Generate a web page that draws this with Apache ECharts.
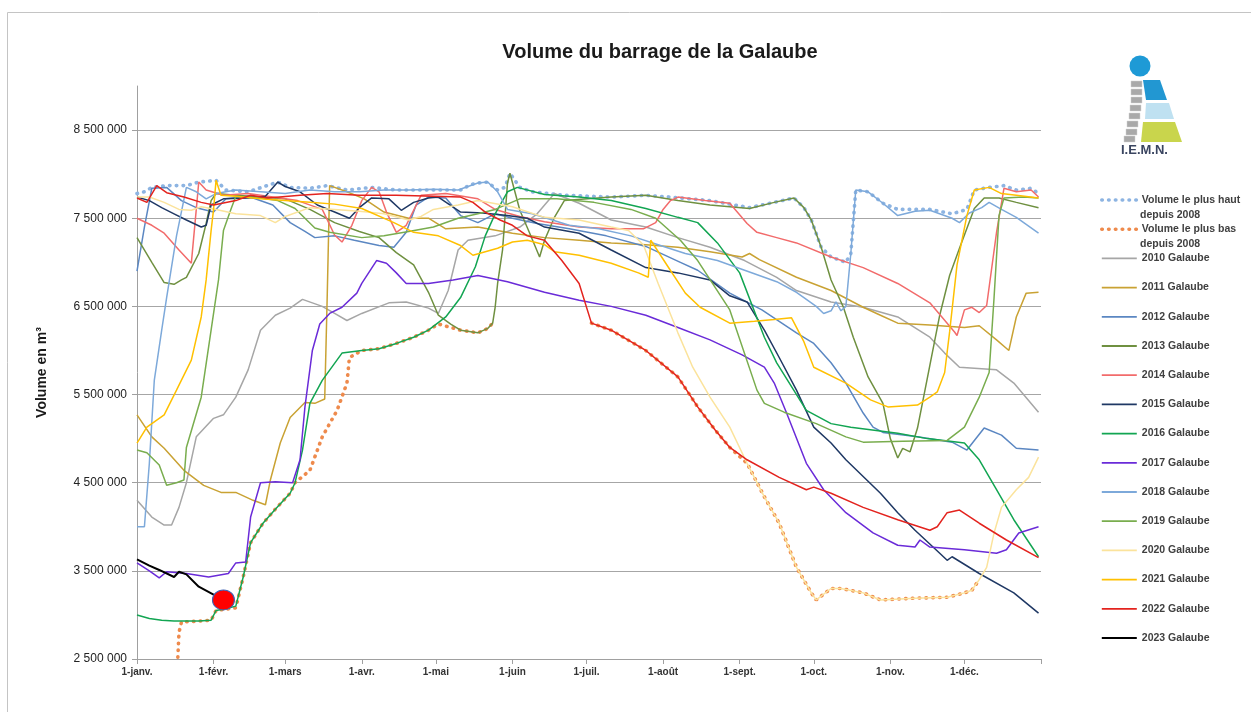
<!DOCTYPE html>
<html>
<head>
<meta charset="utf-8">
<script src="https://cdn.jsdelivr.net/npm/echarts@6.0.0/dist/echarts.min.js"></script>
<style>
  html, body { margin: 0; padding: 0; background: #fff; }
  #chart { width: 1251px; height: 712px; }
</style>
</head>
<body>
<div id="chart"></div>
<script>
// jours depuis le 1er janvier (année de 366 jours), volume en millions de m3
const monthDays = [0, 31, 60, 91, 121, 152, 182, 213, 244, 274, 305, 335];
const monthLabels = ['1-janv.', '1-févr.', '1-mars', '1-avr.', '1-mai', '1-juin', '1-juil.', '1-août', '1-sept.', '1-oct.', '1-nov.', '1-déc.'];
const yTicks = [2.5, 3.5, 4.5, 5.5, 6.5, 7.5, 8.5];

const volMax = [[0,7.78],[3,7.8],[6,7.85],[12,7.87],[20,7.87],[25,7.91],[32,7.93],[36,7.82],[45,7.8],[57,7.91],[62,7.85],[70,7.84],[77,7.87],[85,7.82],[95,7.85],[105,7.82],[115,7.82],[125,7.82],[131,7.82],[135,7.88],[138,7.9],[142,7.91],[146,7.82],[149,7.85],[151,8.01],[155,7.85],[160,7.8],[173,7.76],[192,7.74],[206,7.76],[216,7.74],[232,7.7],[248,7.62],[258,7.68],[266,7.73],[270,7.62],[273,7.48],[277,7.17],[281,7.06],[287,7.0],[289,7.1],[291,7.82],[296,7.8],[302,7.67],[308,7.6],[321,7.6],[330,7.55],[336,7.6],[339,7.82],[345,7.85],[351,7.87],[356,7.82],[362,7.84],[365,7.78]];
const volMin = [[14,2.3],[16.5,2.5],[17,2.8],[18,2.92],[25,2.93],[30,2.94],[32,3.05],[40,3.08],[43,3.43],[46,3.82],[51,4.04],[56,4.2],[62,4.38],[64,4.5],[70,4.64],[75,5.02],[81,5.32],[85,5.63],[86,5.92],[91,6.0],[98,6.02],[105,6.08],[112,6.15],[118,6.23],[122,6.3],[131,6.23],[138,6.2],[142,6.25],[144,6.31],[145,null],[184,6.31],[192,6.23],[206,6.0],[219,5.7],[227,5.36],[234,5.1],[240,4.9],[247,4.72],[254,4.34],[260,4.04],[267,3.54],[273,3.25],[275,3.17],[281,3.3],[285,3.3],[294,3.25],[301,3.17],[315,3.19],[328,3.2],[335,3.25],[338,3.28],[341,3.4]];
const y2010 = [[0,4.3],[6,4.11],[11,4.02],[14,4.02],[17,4.22],[20,4.5],[24,5.02],[31,5.23],[35,5.27],[40,5.47],[45,5.78],[50,6.23],[56,6.4],[62,6.48],[67,6.58],[75,6.5],[80,6.42],[85,6.34],[91,6.42],[102,6.54],[109,6.55],[118,6.48],[122,6.42],[126,6.68],[130,7.14],[134,7.25],[145,7.3],[155,7.4],[162,7.55],[169,7.78],[179,7.67],[192,7.48],[206,7.4],[219,7.28],[232,7.17],[246,7.02],[259,6.83],[267,6.68],[281,6.55],[294,6.49],[308,6.38],[321,6.15],[327,5.97],[333,5.81],[348,5.78],[355,5.63],[365,5.3]];
const y2011 = [[0,5.27],[6,5.02],[11,4.89],[19,4.64],[27,4.47],[34,4.39],[40,4.39],[47,4.3],[52,4.25],[54,4.53],[58,4.95],[62,5.24],[68,5.41],[72,5.4],[76,5.45],[77,6.6],[78,7.87],[85,7.8],[92,7.72],[100,7.57],[110,7.5],[118,7.5],[125,7.38],[138,7.4],[152,7.33],[165,7.28],[179,7.25],[192,7.22],[206,7.2],[219,7.17],[232,7.12],[245,7.06],[248,7.1],[252,7.03],[267,6.83],[281,6.68],[294,6.49],[301,6.4],[308,6.31],[321,6.29],[335,6.26],[341,6.28],[348,6.12],[353,6.0],[356,6.38],[360,6.65],[365,6.66]];
const y2012 = [[0,6.9],[3,7.4],[6,7.84],[12,7.85],[18,7.7],[24,7.62],[31,7.57],[36,7.72],[45,7.75],[55,7.65],[62,7.45],[68,7.35],[72,7.28],[80,7.3],[88,7.25],[98,7.19],[104,7.17],[109,7.34],[113,7.65],[118,7.74],[125,7.73],[131,7.53],[138,7.45],[145,7.55],[152,7.5],[162,7.44],[175,7.38],[190,7.3],[206,7.18],[220,7.0],[227,6.91],[240,6.65],[253,6.46],[267,6.2],[274,6.08],[281,5.86],[287,5.63],[294,5.29],[298,5.13],[302,5.07],[316,5.02],[330,4.96],[336,4.87],[343,5.12],[350,5.04],[356,4.89],[365,4.87]];
const y2013 = [[0,7.28],[6,7.0],[11,6.77],[15,6.75],[18,6.8],[20,6.83],[25,7.1],[28,7.44],[30,7.7],[32,7.78],[40,7.76],[50,7.74],[60,7.72],[70,7.6],[80,7.45],[90,7.35],[98,7.28],[105,7.11],[112,6.97],[118,6.66],[122,6.4],[127,6.3],[131,6.23],[138,6.2],[142,6.25],[144,6.31],[145,6.49],[146,6.76],[148,7.14],[150,7.9],[151,8.01],[155,7.59],[159,7.33],[163,7.06],[165,7.25],[169,7.51],[173,7.7],[192,7.74],[206,7.76],[219,7.7],[232,7.65],[248,7.61],[258,7.68],[266,7.73],[270,7.62],[273,7.48],[277,7.17],[281,6.8],[286,6.49],[290,6.15],[296,5.7],[302,5.4],[305,5.0],[308,4.78],[310,4.89],[313,4.85],[316,5.12],[321,5.83],[325,6.4],[329,6.85],[333,7.16],[339,7.61],[343,7.73],[349,7.73],[356,7.68],[365,7.62]];
const y2014 = [[0,7.5],[6,7.42],[11,7.33],[17,7.14],[22,6.99],[24,7.6],[25,7.91],[28,7.82],[35,7.76],[45,7.78],[55,7.74],[65,7.7],[75,7.6],[80,7.31],[83,7.23],[87,7.42],[91,7.7],[95,7.85],[98,7.8],[101,7.57],[105,7.34],[109,7.42],[115,7.76],[125,7.78],[138,7.72],[145,7.6],[155,7.52],[165,7.46],[179,7.4],[192,7.38],[205,7.38],[210,7.45],[213,7.6],[216,7.7],[219,7.74],[230,7.7],[240,7.67],[247,7.44],[251,7.34],[259,7.28],[267,7.22],[281,7.06],[294,6.94],[308,6.76],[321,6.54],[331,6.21],[332,6.17],[335,6.46],[338,6.49],[341,6.43],[344,6.51],[348,7.34],[351,7.84],[356,7.8],[362,7.82],[365,7.74]];
const y2015 = [[0,7.74],[5,7.7],[10,7.62],[15,7.55],[20,7.48],[26,7.4],[28,7.42],[30,7.65],[35,7.72],[45,7.73],[52,7.75],[57,7.91],[60,7.86],[66,7.8],[73,7.65],[80,7.57],[86,7.5],[90,7.62],[95,7.73],[102,7.72],[107,7.59],[112,7.68],[118,7.73],[122,7.74],[131,7.57],[140,7.56],[150,7.53],[158,7.5],[165,7.4],[179,7.33],[192,7.14],[206,6.94],[219,6.88],[232,6.8],[240,6.62],[247,6.55],[254,6.23],[260,5.92],[267,5.55],[274,5.13],[281,4.95],[287,4.76],[301,4.38],[308,4.16],[315,3.96],[325,3.7],[328,3.62],[330,3.66],[341,3.47],[355,3.25],[365,3.02]];
const y2016 = [[0,3.0],[5,2.96],[10,2.94],[15,2.93],[25,2.93],[30,2.94],[32,3.05],[36,3.07],[40,3.1],[43,3.43],[46,3.82],[51,4.04],[56,4.2],[62,4.38],[64,4.5],[67,4.87],[70,5.4],[75,5.66],[83,5.97],[91,6.0],[98,6.02],[105,6.08],[112,6.15],[118,6.23],[125,6.38],[131,6.6],[137,6.95],[141,7.3],[145,7.55],[150,7.8],[154,7.85],[165,7.77],[179,7.74],[192,7.7],[206,7.61],[219,7.51],[227,7.45],[235,7.22],[244,6.88],[254,6.15],[259,5.86],[271,5.32],[281,5.17],[289,5.13],[308,5.06],[320,5.0],[335,4.95],[341,4.76],[348,4.42],[355,4.08],[365,3.66]];
const y2017 = [[0,3.59],[5,3.5],[9,3.42],[12,3.49],[20,3.47],[29,3.43],[37,3.47],[40,3.59],[44,3.6],[46,4.11],[50,4.5],[56,4.51],[63,4.5],[66,4.76],[68,5.36],[71,6.0],[74,6.3],[78,6.42],[83,6.49],[89,6.65],[91,6.76],[97,7.02],[101,6.99],[105,6.88],[109,6.76],[118,6.76],[128,6.8],[138,6.85],[150,6.78],[165,6.66],[179,6.57],[192,6.5],[206,6.4],[219,6.26],[232,6.12],[245,5.95],[254,5.81],[258,5.63],[263,5.29],[271,4.72],[278,4.42],[287,4.16],[298,3.93],[308,3.79],[315,3.77],[317,3.85],[321,3.77],[335,3.74],[348,3.7],[352,3.74],[357,3.93],[365,4.0]];
const y2018 = [[0,4.0],[3,4.0],[5,4.72],[7,5.66],[10,6.23],[12,6.6],[16,7.3],[20,7.85],[24,7.8],[28,7.72],[32,7.78],[40,7.82],[50,7.8],[60,7.78],[70,7.82],[80,7.8],[90,7.8],[100,7.82],[110,7.82],[120,7.83],[130,7.82],[138,7.9],[142,7.91],[146,7.8],[150,7.6],[160,7.55],[175,7.42],[187,7.38],[200,7.3],[211,7.2],[222,7.1],[235,7.02],[246,6.91],[259,6.78],[267,6.66],[275,6.5],[278,6.42],[281,6.45],[283,6.55],[285,6.45],[287,6.5],[289,7.1],[291,7.82],[296,7.8],[302,7.67],[308,7.53],[315,7.58],[321,7.59],[330,7.5],[333,7.45],[337,7.56],[342,7.62],[345,7.68],[350,7.6],[356,7.51],[365,7.33]];
const y2019 = [[0,4.87],[4,4.84],[9,4.7],[12,4.47],[16,4.5],[19,4.53],[20,4.9],[26,5.47],[30,6.23],[33,6.8],[35,7.36],[38,7.6],[40,7.75],[50,7.73],[57,7.7],[64,7.61],[72,7.39],[78,7.34],[91,7.28],[100,7.3],[110,7.35],[120,7.4],[130,7.5],[138,7.55],[145,7.6],[155,7.72],[170,7.72],[185,7.68],[200,7.6],[210,7.5],[220,7.25],[227,7.02],[240,6.46],[251,5.55],[254,5.4],[262,5.3],[275,5.17],[287,5.02],[294,4.96],[310,4.97],[328,4.98],[335,5.13],[341,5.47],[345,5.75],[347,6.6],[349,7.53],[351,7.73],[359,7.74],[365,7.73]];
const y2020 = [[0,7.74],[5,7.74],[11,7.68],[17,7.6],[22,7.59],[26,7.63],[32,7.6],[40,7.55],[50,7.53],[56,7.45],[60,7.52],[70,7.62],[80,7.6],[90,7.58],[100,7.55],[110,7.48],[115,7.52],[120,7.6],[130,7.65],[138,7.7],[152,7.63],[165,7.51],[179,7.48],[192,7.4],[199,7.36],[205,7.2],[211,6.76],[219,6.2],[225,5.81],[232,5.47],[240,5.13],[247,4.72],[254,4.34],[260,4.04],[267,3.54],[273,3.25],[275,3.17],[281,3.3],[285,3.3],[294,3.25],[301,3.17],[315,3.19],[328,3.2],[335,3.25],[338,3.28],[341,3.4],[344,3.54],[347,3.93],[350,4.22],[356,4.42],[361,4.56],[365,4.79]];
const y2021 = [[0,4.95],[4,5.13],[11,5.27],[16,5.55],[22,5.89],[26,6.38],[28,6.8],[30,7.36],[31,7.6],[32,7.93],[34,7.76],[40,7.75],[50,7.72],[60,7.7],[70,7.68],[80,7.66],[91,7.61],[104,7.45],[112,7.34],[122,7.3],[131,7.19],[136,7.08],[146,7.16],[152,7.23],[158,7.25],[165,7.2],[169,7.12],[179,7.08],[192,6.99],[203,6.88],[207,6.83],[208,7.25],[215,6.95],[222,6.65],[228,6.49],[240,6.31],[250,6.33],[258,6.35],[265,6.37],[270,6.1],[274,5.81],[287,5.63],[297,5.44],[304,5.36],[316,5.38],[321,5.47],[324,5.53],[327,5.75],[329,6.21],[332,6.97],[336,7.53],[339,7.82],[345,7.85],[350,7.78],[356,7.76],[365,7.73]];
const y2022 = [[0,7.73],[4,7.68],[8,7.87],[12,7.79],[19,7.74],[26,7.68],[31,7.65],[40,7.7],[46,7.76],[53,7.73],[66,7.76],[77,7.78],[90,7.76],[105,7.76],[120,7.75],[131,7.74],[136,7.68],[141,7.57],[147,7.48],[152,7.42],[158,7.3],[165,7.25],[172,7.02],[179,6.76],[184,6.31],[192,6.23],[206,6.0],[219,5.7],[227,5.36],[234,5.1],[240,4.9],[247,4.76],[260,4.56],[271,4.42],[274,4.45],[281,4.38],[294,4.22],[308,4.08],[321,3.96],[324,4.0],[328,4.16],[333,4.19],[341,4.04],[352,3.85],[365,3.65]];
const y2023 = [[0,3.63],[5,3.56],[9,3.51],[15,3.43],[17,3.49],[20,3.46],[25,3.32],[31,3.23],[35,3.17]];

const names = ['Volume le plus haut depuis 2008', 'Volume le plus bas depuis 2008',
    '2010 Galaube', '2011 Galaube', '2012 Galaube', '2013 Galaube', '2014 Galaube', '2015 Galaube', '2016 Galaube',
    '2017 Galaube', '2018 Galaube', '2019 Galaube', '2020 Galaube', '2021 Galaube', '2022 Galaube', '2023 Galaube'];
const datasets = [volMax, volMin, y2010, y2011, y2012, y2013, y2014, y2015, y2016, y2017, y2018, y2019, y2020, y2021, y2022, y2023];
const colors = ['#8DB4E2', '#EE8A4C', '#A6A6A6', '#C9A233', '#5B87C2', '#6F9040', '#F26B6B', '#1F3864', '#12A552',
    '#6A2BD8', '#7DA9DA', '#79AD4E', '#FBE39C', '#FFC000', '#E3231E', '#000000'];

function fmtVolume(v) {
    let s = String(Math.round(v * 1000000));
    return s.replace(/\B(?=(\d{3})+(?!\d))/g, ' ');
}

function makeSeries(i) {
    let s = {
        name: names[i],
        type: 'line',
        data: datasets[i],
        symbol: 'none',
        connectNulls: false,
        lineStyle: { color: colors[i], width: 1.5 },
        itemStyle: { color: colors[i] },
        emphasis: { disabled: true },
        animation: false
    };
    // enveloppes max / min en pointillés
    if (i < 2) {
        s.lineStyle = { color: colors[i], width: 3.6, type: [0.5, 6.3], cap: 'round' };
    }
    // 2023 : trait plus épais + pastille rouge au dernier point
    if (i === datasets.length - 1) {
        s.lineStyle = { color: colors[i], width: 2 };
        s.data = datasets[i].map(function (p, k) {
            if (k === datasets[i].length - 1) {
                return { value: p, symbol: 'circle', symbolSize: [22, 20],
                    itemStyle: { color: '#FF0000', borderColor: '#3E63B5', borderWidth: 1 } };
            }
            return p;
        });
        s.z = 5;
    }
    return s;
}

function legendData() {
    return names.map(function (n, i) {
        if (i < 2) {
            return { name: n, lineStyle: { width: 3.6, type: [0.5, 6.3], cap: 'round' } };
        }
        return { name: n, lineStyle: { width: i === names.length - 1 ? 2.2 : 1.8 } };
    });
}

function logo() {
    let g = [];
    g.push({ type: 'circle', shape: { cx: 1140, cy: 66, r: 10.5 }, style: { fill: '#1E9AD6' } });
    g.push({ type: 'polygon', shape: { points: [[1143, 80], [1160, 80], [1167, 100], [1146, 100]] }, style: { fill: '#2297D2' } });
    g.push({ type: 'polygon', shape: { points: [[1146, 103], [1169, 103], [1174, 119], [1145, 119]] }, style: { fill: '#BFE1F1' } });
    g.push({ type: 'polygon', shape: { points: [[1143, 122], [1175, 122], [1182, 142], [1141, 142]] }, style: { fill: '#C9D54C' } });
    let blocks = [[1131, 81], [1131, 89], [1131, 97], [1130, 105], [1129, 113], [1127, 121], [1126, 129], [1124, 136]];
    blocks.forEach(function (b) {
        g.push({ type: 'rect', shape: { x: b[0], y: b[1], width: 11, height: 6 }, style: { fill: '#A9A9A9', stroke: '#D0D0D0', lineWidth: 0.5 } });
    });
    g.push({ type: 'text', x: 1121, y: 144, style: { text: 'I.E.M.N.', fill: '#3A4560', font: 'bold 13px "Liberation Sans"' } });
    return g;
}

function init() {
    let chart = echarts.init(document.getElementById('chart'), null, { renderer: 'canvas' });
    let series = [];
    for (let i = 0; i < datasets.length; i++) series.push(makeSeries(i));

    let graphics = [
        { type: 'rect', shape: { x: 7.5, y: 12.5, width: 1260, height: 720 }, style: { fill: 'none', stroke: '#C4C4C4', lineWidth: 1 }, z: -1 },
        { type: 'text', x: 1140, y: 210, style: { text: 'depuis 2008', fill: '#404040', font: 'bold 10.5px "Liberation Sans"' } },
        { type: 'text', x: 1140, y: 239, style: { text: 'depuis 2008', fill: '#404040', font: 'bold 10.5px "Liberation Sans"' } }
    ].concat(logo());

    let option = {
        backgroundColor: '#ffffff',
        animation: false,
        title: {
            text: 'Volume du barrage de la Galaube',
            left: 655, top: 37, textAlign: 'center',
            textStyle: { fontFamily: 'Liberation Sans', fontSize: 20, fontWeight: 'bold', color: '#1a1a1a' }
        },
        legend: {
            orient: 'vertical',
            left: 1100, top: 193, padding: 0,
            itemWidth: 35, itemHeight: 14, itemGap: 15.2,
            data: legendData(),
            itemStyle: { opacity: 0 },
            formatter: function (n) { return n.replace(' depuis 2008', ''); },
            textStyle: { fontFamily: 'Liberation Sans', fontSize: 10.5, fontWeight: 'bold', color: '#404040', lineHeight: 14 },
            selectedMode: false
        },
        grid: { left: 137, right: 210, top: 86, bottom: 53 },
        xAxis: {
            type: 'value', min: 0, max: 366,
            axisLine: { show: true, onZero: false, lineStyle: { color: '#A0A0A0' } },
            axisTick: { show: true, length: 5, customValues: monthDays.concat([366]), lineStyle: { color: '#A0A0A0' } },
            axisLabel: {
                customValues: monthDays,
                formatter: function (v) { return monthLabels[monthDays.indexOf(v)] || ''; },
                fontFamily: 'Liberation Sans', fontSize: 10, fontWeight: 'bold', color: '#333', margin: 8
            },
            splitLine: { show: false }
        },
        yAxis: {
            type: 'value', min: 2.5, max: 9, interval: 1,
            name: 'Volume en m³', nameLocation: 'middle', nameGap: 88, nameRotate: 90,
            nameTextStyle: { fontFamily: 'Liberation Sans', fontSize: 14, fontWeight: 'bold', color: '#1a1a1a' },
            axisLine: { show: true, lineStyle: { color: '#A0A0A0' } },
            axisTick: { show: true, length: 5, lineStyle: { color: '#A0A0A0' } },
            axisLabel: {
                showMaxLabel: false,
                formatter: function (v) { return yTicks.indexOf(v) >= 0 ? fmtVolume(v) : ''; },
                fontFamily: 'Liberation Sans', fontSize: 12, color: '#222', margin: 10
            },
            splitLine: { show: true, showMaxLine: false, lineStyle: { color: '#A6A6A6', width: 1 } }
        },
        graphic: graphics,
        series: series
    };
    chart.setOption(option);
}

init();
</script>
</body>
</html>
